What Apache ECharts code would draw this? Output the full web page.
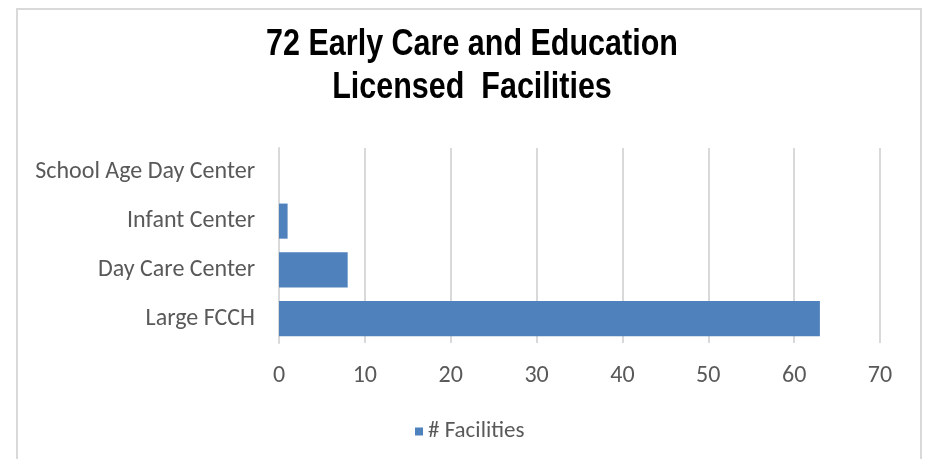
<!DOCTYPE html>
<html>
<head>
<meta charset="utf-8">
<script src="https://cdn.jsdelivr.net/npm/echarts@6/dist/echarts.min.js"></script>
<style>
	html, body { margin:0; padding:0; background:#fff; }
	#chart { width:926px; height:459px; }
</style>
</head>
<body>
<div id="chart"></div>
<script>
	// data, bottom to top
	const categories = ['Large FCCH', 'Day Care Center', 'Infant Center', 'School Age Day Center'];
	const facilities = [63, 8, 1, 0];
	const series_name = '# Facilities';
	const title_lines = ['72 Early Care and Education', 'Licensed  Facilities'];

	const LABEL_FONT = 'Carlito, Calibri, "Noto Sans", sans-serif';
	const TITLE_FONT = 'bold 36px "Liberation Sans", Arial, sans-serif';
	const GREY = '#595959';
	const LINE = '#d9d9d9';

	// title drawn as narrow text (Arial Narrow look)
	let title_texts = title_lines.map((line, i) => ({
		type: 'text',
		silent: true,
		x: 472,
		y: 45 + i * 43,
		scaleX: 0.847,
		style: {
			text: line,
			x: 0,
			y: 0,
			font: TITLE_FONT,
			fill: '#000',
			align: 'center',
			verticalAlign: 'middle'
		}
	}));

	let chart = echarts.init(document.getElementById('chart'));
	let option = {
		animation: false,
		backgroundColor: '#fff',
		graphic: [{
			type: 'rect',
			silent: true,
			shape: { x: 17, y: 9, width: 904, height: 520 },
			style: { fill: 'none', stroke: LINE, lineWidth: 2 }
		}].concat(title_texts),
		legend: {
			data: [series_name],
			left: 410,
			top: 415,
			icon: 'rect',
			itemWidth: 8,
			itemHeight: 8,
			itemGap: 8,
			textStyle: { fontFamily: LABEL_FONT, fontSize: 23, color: GREY }
		},
		grid: {
			left: 279,
			right: 46,
			top: 148,
			bottom: 116
		},
		xAxis: {
			type: 'value',
			min: 0,
			max: 70,
			interval: 10,
			axisLine: { show: false },
			axisTick: { show: false },
			splitLine: { lineStyle: { color: LINE, width: 2 } },
			axisLabel: { margin: 21, fontFamily: LABEL_FONT, fontSize: 24, color: GREY }
		},
		yAxis: {
			type: 'category',
			data: categories,
			axisLine: { lineStyle: { color: LINE, width: 2 } },
			axisTick: { length: 9, lineStyle: { color: LINE, width: 2 } },
			axisLabel: { margin: 24, fontFamily: LABEL_FONT, fontSize: 24, color: GREY, padding: [8, 0, 0, 0] }
		},
		series: [{
			name: series_name,
			type: 'bar',
			data: facilities,
			barCategoryGap: '28%',
			itemStyle: { color: '#4f81bd' }
		}]
	};
	chart.setOption(option);
</script>
</body>
</html>
